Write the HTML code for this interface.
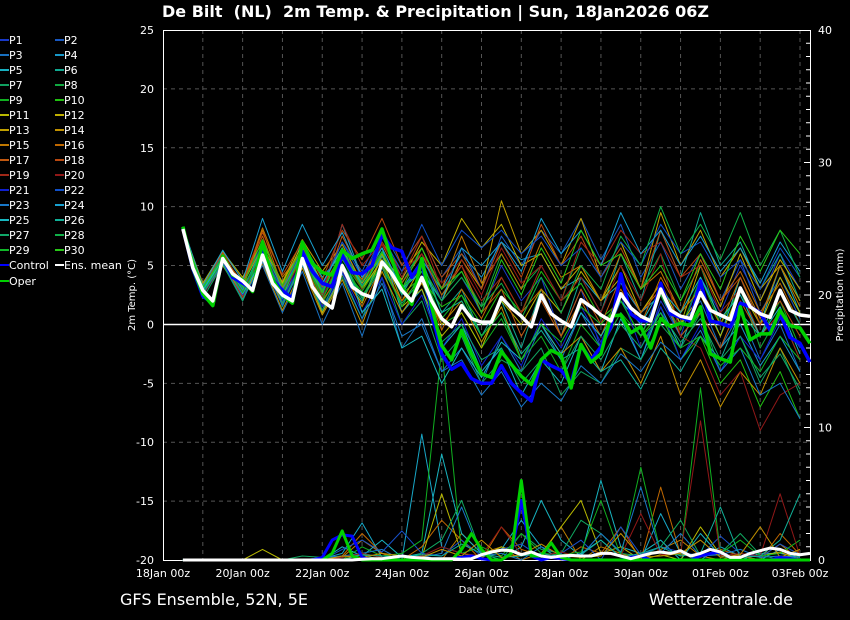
<!DOCTYPE html>
<html><head><meta charset="utf-8"><style>
html,body{margin:0;padding:0;background:#000;}
svg{display:block;font-family:"DejaVu Sans","Liberation Sans",sans-serif;}
</style></head><body>
<svg id="chart" width="850" height="620" viewBox="0 0 850 620" xmlns="http://www.w3.org/2000/svg">
<rect x="0" y="0" width="850" height="620" fill="#000"/>
<text x="162" y="17" fill="#fff" font-size="16" font-weight="bold" textLength="547" lengthAdjust="spacingAndGlyphs">De Bilt&#160; (NL)&#160; 2m Temp. &amp; Precipitation | Sun, 18Jan2026 06Z</text>
<g id="grid"></g>
<g id="axes"></g>
<g id="precip"></g>
<g id="temps"></g>
<g id="legend"></g>
<text transform="translate(135,295) rotate(-90)" fill="#fff" font-size="10" text-anchor="middle">2m Temp. (°C)</text>
<text transform="translate(843,295) rotate(-90)" fill="#fff" font-size="10" text-anchor="middle">Precipitation (mm)</text>
<text x="486" y="593" fill="#fff" font-size="10" text-anchor="middle">Date (UTC)</text>
<text x="120" y="605" fill="#fff" font-size="16">GFS Ensemble, 52N, 5E</text>
<text x="793" y="605" fill="#fff" font-size="16" text-anchor="end">Wetterzentrale.de</text>
</svg>
<script>
const xTickLabels=["18Jan 00z","20Jan 00z","22Jan 00z","24Jan 00z","26Jan 00z","28Jan 00z","30Jan 00z","01Feb 00z","03Feb 00z"];
const yTicks=[25,20,15,10,5,0,-5,-10,-15,-20];
const y2Ticks=[40,30,20,10,0];
const meanT=[8.1,4.8,2.9,2.0,5.6,4.3,3.7,2.9,5.9,3.5,2.5,2.0,5.6,3.2,2.0,1.4,5.0,3.2,2.6,2.3,5.3,4.3,2.9,2.0,4.0,2.0,0.5,-0.2,1.6,0.5,0.2,0.2,2.3,1.4,0.7,-0.2,2.5,0.9,0.3,-0.2,2.1,1.5,0.8,0.3,2.6,1.4,0.7,0.3,3.0,1.2,0.7,0.5,2.7,1.2,0.8,0.4,3.1,1.5,0.9,0.6,2.9,1.2,0.8,0.7];
const controlT=[8.2,4.7,2.4,1.8,5.7,4.0,3.5,3.0,6.6,3.8,2.9,2.2,6.2,4.5,3.5,3.2,5.9,4.4,4.3,5.0,7.6,6.5,6.2,4.0,5.3,1.0,-2.5,-3.8,-3.3,-4.6,-5.0,-5.0,-3.5,-5.0,-5.8,-6.5,-3.0,-3.5,-3.9,-5.0,-1.8,-3.0,-1.9,-0.2,4.3,0.9,0.3,0.3,3.5,0.9,0.6,0.3,3.7,0.3,0.1,-0.2,1.8,1.5,1.0,-0.5,0.9,-1.1,-1.6,-3.2];
const operT=[8.3,4.8,2.6,1.6,5.8,4.2,3.8,2.8,7.0,3.8,2.5,1.8,7.0,5.2,4.4,4.2,6.3,5.6,6.0,6.3,8.1,5.5,3.2,1.7,5.6,1.5,-1.8,-3.0,-0.5,-2.5,-4.2,-4.5,-2.3,-3.4,-4.4,-5.1,-3.0,-2.2,-2.6,-5.4,-1.7,-3.2,-2.5,0.7,0.8,-0.7,-0.2,-2.0,0.5,-0.2,0.1,-0.1,1.5,-2.5,-2.9,-3.2,1.5,-1.3,-0.8,-0.8,1.2,-0.1,-0.3,-1.6];
const memberNames=["P1","P2","P3","P4","P5","P6","P7","P8","P9","P10","P11","P12","P13","P14","P15","P16","P17","P18","P19","P20","P21","P22","P23","P24","P25","P26","P27","P28","P29","P30"];
const memberColors=["#1838c8","#1858c0","#1870c0","#1898c8","#18b0c0","#10a890","#10a060","#10a840","#10b020","#20c010","#b8b800","#c0b000","#c0a000","#c09000","#c07800","#c06800","#c05810","#b84810","#a02818","#901818","#1020d0","#1050c8","#1878c8","#18a0d0","#18b8c0","#10b098","#10a868","#10b048","#10b828","#28c818"];
const m1=[8.2,2.5,5.5,3.0,6.2,2.0,6.0,2.5,6.5,3.5,7.5,4.0,6.0,2.0,4.0,1.0,5.0,2.0,4.0,-1.0,3.0,-2.0,1.0,-3.0,2.0,-1.0,4.0,1.0,5.0,2.0,6.0,3.0];
const m2=[8.0,3.2,5.8,3.5,6.8,3.0,6.5,3.0,7.0,4.5,8.0,5.0,7.5,4.0,6.5,3.0,7.5,5.0,8.0,6.0,9.0,5.5,8.5,4.0,7.0,3.0,6.0,2.0,5.5,1.0,4.0,0.5];
const m3=[8.1,2.8,5.2,2.5,5.0,1.0,4.5,0.0,3.5,-1.0,4.0,-2.0,0.5,-4.0,-2.0,-5.0,-1.0,-4.0,0.0,-3.0,1.0,-2.0,2.0,-1.0,3.0,0.0,2.0,-2.0,1.0,-3.0,0.0,-4.0];
const m4=[8.3,3.0,6.0,2.8,5.5,2.2,6.5,2.5,8.5,4.0,6.5,3.0,5.5,3.0,6.0,4.0,7.0,5.5,6.0,3.0,4.0,2.0,3.5,1.0,2.5,-1.0,1.0,-2.0,0.0,-3.5,-1.0,-4.0];
const m5=[8.0,2.6,5.4,2.0,5.8,3.0,7.0,4.0,6.0,3.5,6.5,1.0,3.0,-2.0,0.0,-4.0,-2.0,-6.0,-3.0,-5.0,-1.0,-4.0,0.5,-3.0,1.5,-2.0,3.0,-1.0,4.0,0.0,5.0,1.0];
const m6=[8.2,3.1,5.9,3.2,6.0,2.5,5.0,1.5,4.5,2.0,6.0,3.0,5.0,1.0,3.0,-1.0,2.0,-2.0,3.0,-1.0,4.0,1.0,6.0,2.0,8.0,4.0,9.5,5.0,7.0,3.0,6.0,2.0];
const m7=[8.1,2.7,5.6,2.6,6.5,1.5,5.5,1.0,4.0,0.5,5.0,0.0,2.0,-3.0,-1.0,-5.0,-3.0,-4.0,-2.0,-6.0,-4.0,-5.0,-2.0,-3.0,0.0,-2.0,1.0,-4.0,-1.0,-5.0,-2.0,-6.0];
const m8=[7.9,2.9,5.3,2.7,5.7,2.8,6.2,2.2,5.2,2.4,5.0,3.5,6.5,2.5,4.5,1.5,6.0,3.0,5.0,2.0,6.5,4.0,7.0,3.0,6.0,2.0,5.0,0.0,3.0,-2.0,1.0,-3.0];
const m9=[8.2,2.4,5.7,2.9,6.0,2.6,5.8,1.8,4.8,2.8,5.5,3.2,4.5,0.0,1.0,-2.0,0.5,-3.0,-1.0,-4.0,0.0,-2.0,1.0,-1.0,2.5,-0.5,4.0,0.0,3.0,-1.0,2.0,-2.0];
const m10=[8.0,3.3,5.5,3.1,6.3,3.4,6.0,2.4,5.5,3.0,6.0,2.6,4.0,1.5,2.5,0.0,3.0,1.0,4.5,2.0,3.5,0.5,2.0,-1.0,1.0,-3.0,-1.0,-5.0,-3.0,-7.0,-4.0,-8.0];
const m11=[8.1,3.5,6.2,4.0,7.0,3.5,6.8,3.5,6.5,3.0,5.5,1.5,3.0,-1.0,1.0,-2.0,2.0,0.0,3.0,1.0,4.5,2.0,5.0,1.0,3.5,0.0,2.5,-1.0,3.0,0.0,4.0,1.0];
const m12=[8.2,2.9,5.0,2.4,5.4,1.8,5.2,1.0,4.2,1.8,5.8,3.8,7.0,5.0,9.0,6.5,8.5,5.0,6.0,3.0,5.0,2.0,4.0,1.0,3.5,0.0,5.0,1.5,6.0,2.0,5.5,3.0];
const m13=[8.0,3.0,5.8,3.4,6.6,3.6,7.2,4.5,6.8,3.5,6.0,2.0,5.0,2.0,5.5,3.0,10.5,6.0,8.0,5.0,9.0,4.0,7.0,3.0,9.5,5.0,8.0,4.0,6.5,3.0,5.0,2.0];
const m14=[8.3,2.6,5.6,2.2,5.2,1.2,4.8,0.8,3.8,0.0,4.5,1.0,3.5,0.0,2.0,-1.5,1.5,-3.0,0.0,-2.5,-1.0,-4.0,-2.0,-5.0,-1.0,-6.0,-3.0,-7.0,-4.0,-6.0,-2.0,-5.0];
const m15=[8.1,3.4,6.0,3.3,8.2,4.0,6.3,3.2,6.0,3.8,7.0,4.5,6.5,3.0,7.5,3.5,6.0,3.0,7.0,4.0,5.0,2.0,6.0,3.0,4.5,1.0,3.0,0.0,4.0,0.5,5.0,1.5];
const m16=[8.2,2.7,5.3,3.0,8.0,3.2,5.4,2.0,4.6,1.5,5.0,2.0,4.0,-0.5,3.0,0.5,4.0,1.0,3.0,-1.0,2.0,-1.0,3.0,0.0,4.0,1.0,5.5,2.0,4.5,1.0,3.5,0.0];
const m17=[8.0,3.1,5.7,3.6,7.5,3.0,6.6,2.8,7.5,4.2,6.8,3.5,6.0,2.5,5.0,1.0,3.0,-1.0,2.0,-1.0,3.0,0.0,4.0,1.0,3.0,-1.0,1.0,-2.0,2.0,-1.0,3.0,0.0];
const m18=[8.2,3.2,6.1,3.8,7.8,4.2,7.0,3.8,8.0,5.5,9.0,5.0,7.5,4.0,6.0,3.0,7.0,4.0,8.5,5.0,7.5,4.0,6.5,3.0,8.0,4.0,6.0,2.0,4.0,0.0,2.0,-1.0];
const m19=[8.1,2.5,5.1,2.3,6.4,2.7,6.1,2.6,8.5,5.0,7.0,4.0,7.5,3.0,5.0,2.0,4.0,1.0,5.0,2.0,7.0,5.0,8.0,6.0,7.0,4.0,5.0,1.0,3.0,-1.0,1.0,-3.0];
const m20=[8.0,2.9,5.4,2.8,5.9,2.4,5.7,2.3,6.0,3.0,6.8,4.5,6.0,3.5,5.5,2.5,6.5,3.5,5.0,2.0,4.0,1.0,5.0,2.0,6.0,-1.0,-2.0,-6.0,-4.0,-9.0,-6.0,-5.0];
const m21=[8.2,2.8,5.6,2.5,5.6,2.0,5.5,1.5,4.5,1.0,4.0,0.0,2.5,-2.0,0.5,-3.5,-1.0,-3.5,0.5,-2.0,1.5,-1.5,2.5,-2.0,1.5,-3.0,0.0,-4.0,-1.0,-3.0,0.5,-2.0];
const m22=[8.1,3.0,5.9,3.0,6.1,2.9,6.3,3.3,7.0,4.0,7.5,4.5,8.5,5.0,8.0,6.5,8.0,6.0,7.5,5.0,6.5,4.0,7.0,5.0,8.5,6.0,7.0,4.0,5.5,3.0,6.5,4.0];
const m23=[8.0,2.6,5.2,2.1,5.3,1.6,5.1,1.2,4.3,0.5,3.5,-1.0,0.0,-4.0,-3.0,-6.0,-4.0,-7.0,-5.0,-6.5,-3.5,-5.0,-2.5,-4.0,-1.5,-3.0,-0.5,-4.0,-2.0,-6.0,-5.0,-8.0];
const m24=[8.3,3.3,6.3,3.7,9.0,4.5,8.5,5.0,7.8,4.0,6.5,3.0,4.5,2.0,6.5,5.0,7.0,4.5,9.0,6.0,8.0,5.0,9.5,6.0,8.0,5.0,7.5,4.5,6.5,3.5,7.0,4.5];
const m25=[8.1,2.9,5.5,2.6,5.5,2.3,6.4,3.5,6.5,1.0,3.0,-2.0,-1.0,-5.0,-2.0,-4.5,-1.5,-3.0,0.0,-2.5,1.0,-1.0,2.0,0.0,3.0,1.0,4.0,0.5,2.5,-1.0,1.5,-2.5];
const m26=[8.2,3.0,5.7,2.9,6.6,3.0,5.9,2.7,6.3,3.3,5.8,2.5,5.5,1.0,2.0,-1.0,1.0,-2.5,-0.5,-3.0,-2.0,-4.0,-3.0,-5.5,-2.0,-4.0,-1.0,-3.0,1.0,-1.0,3.0,0.0];
const m27=[8.0,2.2,5.1,2.0,6.9,1.8,5.3,1.2,5.2,2.2,4.8,1.8,3.8,-1.5,0.0,-3.0,-2.0,-5.0,-3.0,-4.0,-1.0,-3.0,0.0,-2.0,1.0,-1.5,0.5,-3.0,-1.0,-4.5,-2.5,-5.5];
const m28=[8.1,3.1,5.8,3.1,6.1,2.5,6.2,2.9,6.1,3.6,6.2,2.8,5.0,2.0,4.0,1.5,3.5,0.5,4.0,1.0,5.0,3.0,7.5,5.0,10.0,6.0,8.5,5.5,9.5,5.0,8.0,4.0];
const m29=[8.2,2.7,5.4,2.7,5.8,2.6,6.0,2.1,5.6,2.4,5.2,1.5,4.5,0.5,2.5,-1.0,1.0,-3.0,0.0,-1.5,1.5,0.0,2.0,-1.0,0.5,-2.0,-1.0,-3.5,-2.0,-4.0,-1.0,-3.0];
const m30=[8.0,3.2,5.6,3.3,7.2,3.3,6.5,2.7,6.2,3.1,6.1,3.0,6.5,3.0,4.5,1.0,5.5,2.5,6.5,3.5,8.0,5.0,6.0,3.0,5.0,2.0,6.0,3.0,7.5,4.5,8.0,6.0];
const memberT=[m1,m2,m3,m4,m5,m6,m7,m8,m9,m10,m11,m12,m13,m14,m15,m16,m17,m18,m19,m20,m21,m22,m23,m24,m25,m26,m27,m28,m29,m30];
const meanP=[0,0,0,0,0,0,0,0,0,0,0,0,0,0,0,0,0,0,0.05,0.1,0.1,0.2,0.3,0.2,0.15,0.1,0.1,0.1,0.05,0.1,0.4,0.6,0.75,0.7,0.4,0.6,0.3,0.2,0.3,0.35,0.3,0.3,0.5,0.5,0.3,0.1,0.3,0.5,0.6,0.5,0.7,0.3,0.5,0.8,0.6,0.2,0.2,0.5,0.7,0.9,0.8,0.5,0.4,0.5];
const controlP=[0,0,0,0,0,0,0,0,0,0,0,0,0,0,0.2,1.5,1.9,1.8,0.2,0,0,0,0,0,0,0,0,0.1,0.2,0.3,0.1,0,0,0.5,4.5,0.3,0,0.2,0.1,0,0,0,0,0,0,0.2,0.3,0,0,0,0,0,0.3,0.5,0.6,0.2,0,0,0,0,0.2,0.1,0,0];
const operP=[0,0,0,0,0,0,0,0,0,0,0,0,0,0,0,0.5,2.2,0.3,0,0,0,0,0,0,0,0,0,0,0.8,2.0,0.8,0,0,0.5,6.0,0.3,0.3,1.3,0.2,0,0,0,0,0,0,0,0,0,0,0,0,0,0,0,0,0,0,0,0,0,0,0,0,0];
const pm1=[0,0,0,0,0,0,0,0,0.2,1.5,0.5,0,0.3,0,2.0,0.5,1.0,0,0.5,2.5,0,1.0,0.5,0,0.8,1.5,0.3,0,0.5,0.2,1.2,0];
const pm2=[0,0,0,0,0,0,0,0.1,0.5,2.8,0.2,0,9.5,1.0,0.5,0.2,0.8,3.0,1.0,0,0.5,1.5,0.2,0,3.5,0.5,0,1.0,0.3,0,0.8,0.4];
const pm3=[0,0,0,0,0,0,0,0,1.0,0.3,1.5,0.2,0.5,8.0,2.0,0.5,0,1.0,4.5,1.5,0.3,6.0,1.0,0.5,1.5,0,2.0,0.3,0,0.5,0.5,0.2];
const pm4=[0,0,0,0,0,0,0,0,0.3,2.0,0.5,0,1.0,3.0,1.5,0,2.5,0.8,0.3,0,1.0,0.5,2.5,0,5.5,0.4,0.2,0.8,0.3,0,2.0,0.4];
const pm5=[0,0,0,0,0.8,0,0,0,0,0.5,0.2,0,0.2,5.0,0.5,0.2,1.0,0.5,0.4,2.5,4.5,0.5,1.0,0,0.4,0,2.5,0.4,0.2,0.3,0.6,0];
const pm6=[0,0,0,0,0,0,0.3,0.2,0.2,0.4,0,0,0.5,1.5,4.5,0.5,0,2.0,0.8,0.5,3.0,2.0,0.5,0.3,1.0,3.0,0.3,0.5,2.0,0.4,0,0.3];
const pm7=[0,0,0,0,0,0,0,0,0.8,1.5,0.6,2.2,0.5,0.3,1.5,0.3,0.8,1.2,0.2,0.5,1.5,0,2.5,0.4,1.0,0.6,0.3,1.8,0.5,0.2,1.2,0.4];
const pm8=[0,0,0,0,0,0,0,0,0,1.0,0.3,0.5,1.5,16.0,0.5,1.0,0.3,2.0,0.5,0.4,0.6,4.5,0.3,7.0,0.5,0.4,13.0,0.5,1.5,0.3,0.5,1.5];
const pm9=[0,0,0,0,0,0,0,0.2,0.3,0.5,0.8,0,0.2,0.5,4.0,0.3,0.5,0,1.0,0.4,0.3,2.0,0.6,5.5,0.5,2.0,0.3,0.4,0.8,0.2,0.3,0.2];
const pm10=[0,0,0,0,0,0,0,0,0.2,0.5,0.2,0,0.3,1.0,0.5,0.3,2.5,0.4,0.3,0.6,0.2,0.5,0.3,3.5,0.4,0.5,10.5,0.3,0.5,0.3,5.0,0.3];
const pm11=[0,0,0,0,0,0,0,0,0,0.4,0.3,0.2,0.4,0.3,1.2,0.5,0.2,0.3,0.5,0.2,0.4,1.5,0.2,0.5,1.0,0.3,0.5,4.0,0.2,0.3,1.5,5.0];
const pm12=[0,0,0,0,0,0,0,0,0.3,0.2,0.5,0.3,0.2,0.8,0.3,1.5,0.2,0.4,1.2,0.3,0.2,0.3,2.0,0.2,0.3,0.5,1.5,0.2,0.4,2.5,0.2,0.8];
const memberP=[pm1,pm2,pm3,pm4,pm5,pm6,pm7,pm8,pm9,pm10,pm11,pm12];
const memberPColors=["#c08000","#18a8c8","#18b4c0","#c06800","#b8b800","#10a860","#1850c8","#10b020","#1878c8","#901818","#10b098","#c09000"];

const NS="http://www.w3.org/2000/svg";
const X0=163,X1=810,Y0=30,Y1=560,DAY=(800-163)/16;
function xOfDay(d){return X0+d*DAY;}
function yT(v){return Y1-(v+20)*(Y1-Y0)/45;}
function yP(v){return Y1-v*(Y1-Y0)/40;}
function mk(tag,attrs,parent){const e=document.createElementNS(NS,tag);for(const k in attrs)e.setAttribute(k,attrs[k]);parent.appendChild(e);return e;}
const grid=document.getElementById('grid'),axes=document.getElementById('axes');
for(let d=1;d<=16;d++){
  const gl=mk('line',{x1:xOfDay(d),x2:xOfDay(d),y1:Y0,y2:Y1,stroke:'#555','stroke-dasharray':'4,4','stroke-width':1},grid);
  
  
}
yTicks.forEach(v=>{
  if(v!==25&&v!==-20&&v!==0){
    const gl=mk('line',{x1:X0,x2:X1,y1:yT(v),y2:yT(v),stroke:'#555','stroke-dasharray':'4,4','stroke-width':1},grid);
    
    
  }
  const t=mk('text',{x:154,y:yT(v)+4,fill:'#fff','font-size':11,'text-anchor':'end'},axes);
  t.textContent=String(v);
  
  
});
y2Ticks.forEach(v=>{
  const t=mk('text',{x:818,y:yP(v)+4,fill:'#fff','font-size':11},axes);
  t.textContent=String(v);
  
  
});
for(let v=1;v<40;v++){
  const l=mk('line',{x1:X1,x2:X1-(v%10===0?6:4),y1:yP(v),y2:yP(v),stroke:'#fff','stroke-width':1},axes);
  
  
}
xTickLabels.forEach((s,i)=>{
  const t=mk('text',{x:xOfDay(i*2),y:577,fill:'#fff','font-size':11,'text-anchor':'middle'},axes);
  t.textContent=s;
  
  
});
const frame=mk('rect',{x:X0+0.5,y:Y0+0.5,width:X1-X0,height:Y1-Y0,fill:'none',stroke:'#fff','stroke-width':1},axes);


const zl=mk('line',{x1:X0,x2:X1,y1:yT(0),y2:yT(0),stroke:'#fff','stroke-width':1.5},axes);



function poly(arr,step,yf,color,w,parent,name){
  const pts=arr.map((v,i)=>xOfDay(0.5+i*step).toFixed(1)+','+yf(v).toFixed(1)).join(' ');
  const p=mk('polyline',{points:pts,fill:'none',stroke:color,'stroke-width':w,'stroke-linejoin':'round'},parent);
  
  
}
const pg=document.getElementById('precip'),tg=document.getElementById('temps');
memberP.forEach((a,i)=>poly(a,0.5,yP,memberPColors[i],1,pg,'precip-member-line'));
poly(controlP,0.25,yP,'#0000ff',3,pg,'precip-control-line');
poly(operP,0.25,yP,'#00d000',3,pg,'precip-oper-line');
poly(meanP,0.25,yP,'#ffffff',3,pg,'precip-mean-line');
memberT.forEach((a,i)=>poly(a,0.5,yT,memberColors[i],1,tg,'temp-member-line'));
poly(controlT,0.25,yT,'#0000ff',3.5,tg,'temp-control-line');
poly(operT,0.25,yT,'#00d000',3.5,tg,'temp-oper-line');
poly(meanT,0.25,yT,'#ffffff',3.5,tg,'temp-mean-line');

const lg=document.getElementById('legend');
memberNames.forEach((n,i)=>{
  const col=i%2,row=Math.floor(i/2);
  const x=col?55:0,y=40+row*15;
  const l=mk('line',{x1:x,x2:x+9,y1:y,y2:y,stroke:memberColors[i],'stroke-width':2},lg);
  
  
  const t=mk('text',{x:x+9,y:y+4,fill:'#fff','font-size':11},lg);
  t.textContent=n;
  
  
});
[["Control","#0000ff",0,265],["Ens. mean","#ffffff",55,265],["Oper","#00d000",0,281]].forEach(e=>{
  const l=mk('line',{x1:e[2],x2:e[2]+9,y1:e[3],y2:e[3],stroke:e[1],'stroke-width':2},lg);
  
  
  const t=mk('text',{x:e[2]+9,y:e[3]+4,fill:'#fff','font-size':11},lg);
  t.textContent=e[0];
  
  
});
</script>
</body></html>
